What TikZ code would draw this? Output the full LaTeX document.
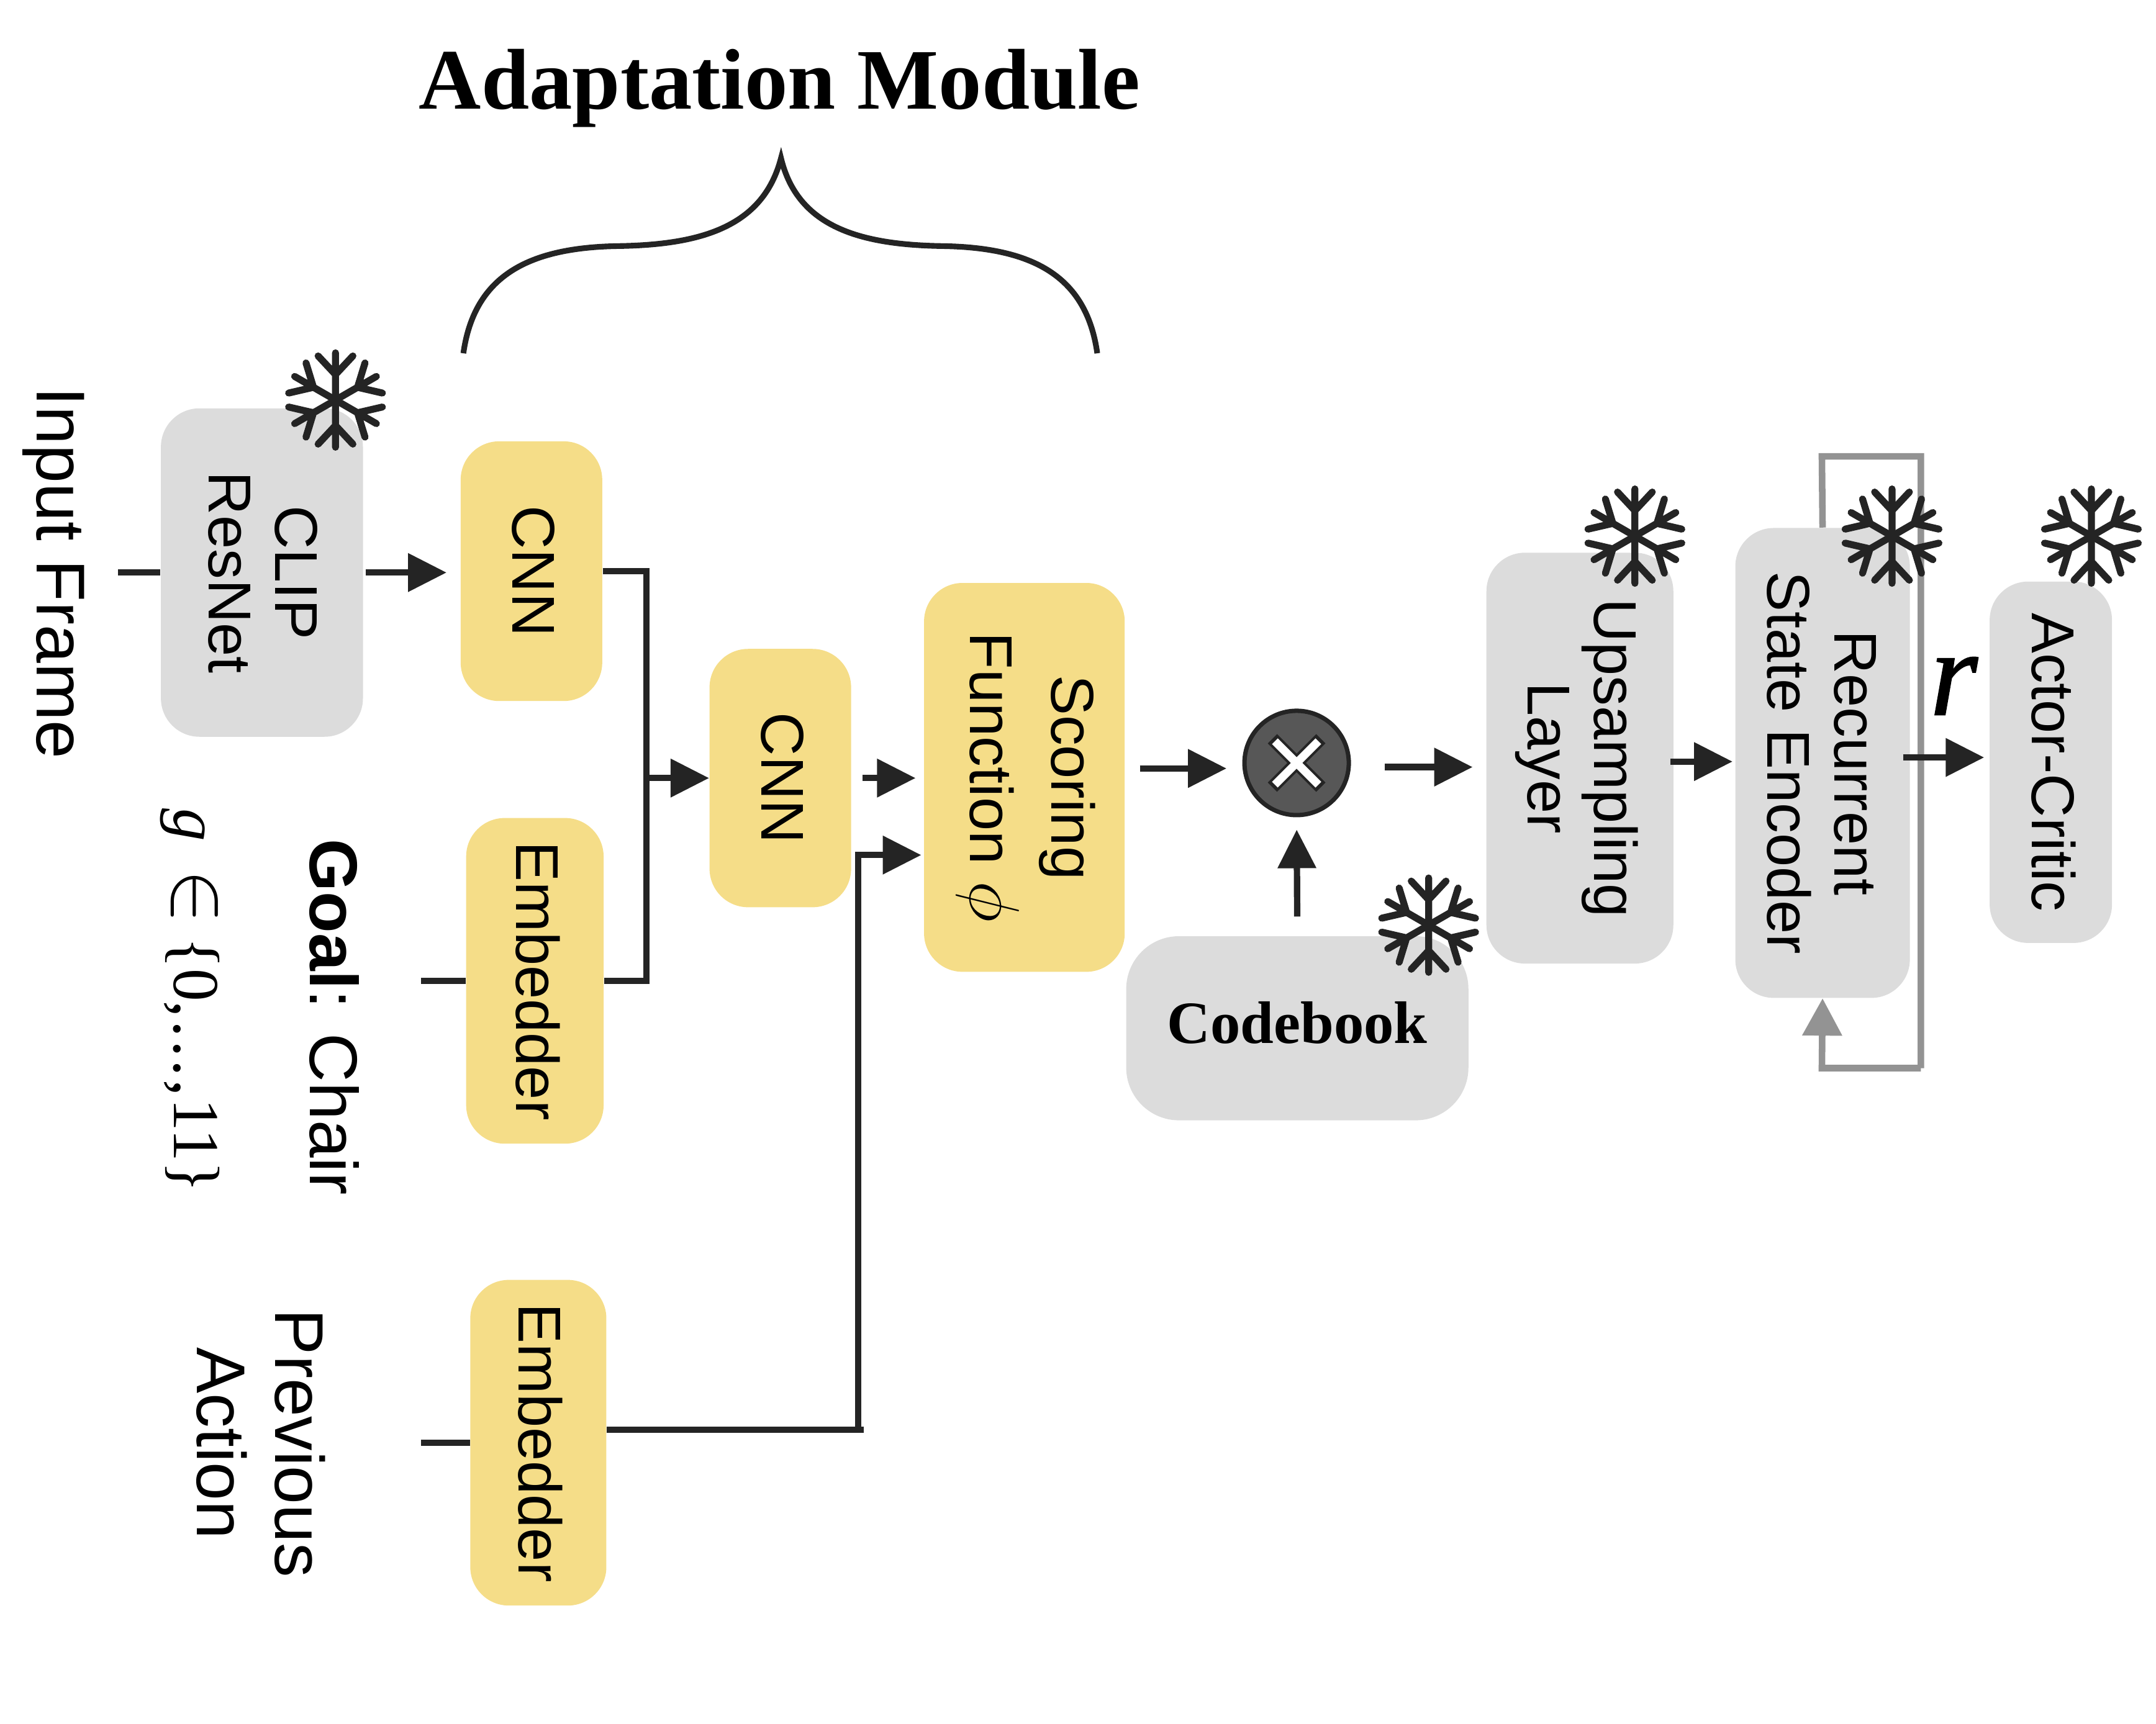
\documentclass[tikz,border=0pt]{standalone}
\usepackage{fontspec}
\setmainfont{Liberation Sans}
\newfontfamily\timesf{Liberation Serif}
\newfontfamily\heavyital[ItalicFeatures={FakeBold=1}]{Liberation Serif}
\usetikzlibrary{arrows.meta}
\definecolor{boxyellow}{HTML}{F5DD88}
\definecolor{boxgray}{HTML}{DCDCDC}
\definecolor{inkdark}{HTML}{242424}
\definecolor{loopgray}{HTML}{939393}
\definecolor{opfill}{HTML}{575757}
\newcommand\rt[2][5pt]{\rotatebox{-90}{\begin{tabular}{@{}c@{}}#2\end{tabular}}\kern#1\relax}
\tikzset{
  basebox/.style={draw=none,rounded corners=0.62cm,inner sep=0pt,font=\fontsize{27.7}{30.5}\selectfont,text=black},
  ybox/.style={basebox,fill=boxyellow},
  gbox/.style={basebox,fill=boxgray},
  side/.style={inner sep=0pt,font=\fontsize{31.6}{36}\selectfont,text=black},
  conn/.style={draw=inkdark,line width=2.9pt},
  arr/.style={conn,-{Triangle[length=0.62cm,width=0.6cm]}},
  grayarr/.style={draw=loopgray,line width=3pt,-{Triangle[length=0.6cm,width=0.62cm]}},
  flakeline/.style={draw=inkdark,line width=3.2pt,line cap=round,line join=round},
  flake/.pic={
    \foreach \a in {0,60,...,300}{
      \draw[flakeline,rotate=\a] (0cm,0cm)--(0cm,0.76cm) (-0.28cm,0.71cm)--(0cm,0.41cm)--(0.28cm,0.71cm);
    }
  }
}
\begin{document}
\begin{tikzpicture}[x=0.0221429cm,y=-0.0221429cm]
\useasboundingbox (0,0) rectangle (1568,1254.1);

% title and brace
\node[inner sep=0pt,text=black,font=\timesf\bfseries\fontsize{39.5}{44}\selectfont] (title) at (567,64) {Adaptation Module};
\draw[draw=inkdark,line width=2.6pt] (337,257) .. controls (345,200) and (385,180) .. (450,179)
  .. controls (510,178) and (555,165) .. (568,115)
  .. controls (580,165) and (625,178) .. (685,179)
  .. controls (750,180) and (790,200) .. (798,257);

% boxes
\node[gbox,minimum width=147*2.21429*0.01cm,minimum height=239*2.21429*0.01cm] (clip) at (190.5,416.5) {\rt[6pt]{CLIP\\ResNet}};
\node[ybox,minimum width=103*2.21429*0.01cm,minimum height=189*2.21429*0.01cm] (cnnA) at (386.5,415.5) {\rt{CNN}};
\node[ybox,minimum width=100*2.21429*0.01cm,minimum height=237*2.21429*0.01cm] (embA) at (389,713.5) {\rt{Embedder}};
\node[ybox,minimum width=103*2.21429*0.01cm,minimum height=188*2.21429*0.01cm] (cnnB) at (567.5,566) {\rt{CNN}};
\node[ybox,minimum width=146*2.21429*0.01cm,minimum height=283*2.21429*0.01cm] (score) at (745,565.5) {\rt[0pt]{Scoring\\[5.5pt]Function \scalebox{1.3}{$\phi$}}};
\node[ybox,minimum width=99*2.21429*0.01cm,minimum height=237*2.21429*0.01cm] (embB) at (391.5,1049.5) {\rt[5.5pt]{Embedder}};
\node[gbox,rounded corners=0.85cm,minimum width=249*2.21429*0.01cm,minimum height=134*2.21429*0.01cm,font=\timesf\bfseries\fontsize{27.5}{30}\selectfont] (codebook) at (943.5,748) {\raisebox{-6.85pt}[0pt][0pt]{Codebook}};
\node[gbox,minimum width=136*2.21429*0.01cm,minimum height=299*2.21429*0.01cm] (upsample) at (1149,551.5) {\rt{Upsampling\\Layer}};
\node[gbox,minimum width=127*2.21429*0.01cm,minimum height=342*2.21429*0.01cm] (rec) at (1325.5,555) {\rt[7.5pt]{Recurrent\\State Encoder}};
\node[gbox,minimum width=89*2.21429*0.01cm,minimum height=263*2.21429*0.01cm] (actor) at (1491.5,554.5) {\rt{Actor-Critic}};

% multiply node
\node[circle,draw=inkdark,fill=opfill,line width=2pt,minimum size=1.68cm,inner sep=0pt] (mult) at (943,555) {};
\draw[draw=inkdark,line width=6pt] ([xshift=-0.39cm,yshift=-0.39cm]mult.center) -- ([xshift=0.39cm,yshift=0.39cm]mult.center);
\draw[draw=inkdark,line width=6pt] ([xshift=-0.39cm,yshift=0.39cm]mult.center) -- ([xshift=0.39cm,yshift=-0.39cm]mult.center);
\draw[draw=white,line width=3.7pt] ([xshift=-0.35cm,yshift=-0.35cm]mult.center) -- ([xshift=0.35cm,yshift=0.35cm]mult.center);
\draw[draw=white,line width=3.7pt] ([xshift=-0.35cm,yshift=0.35cm]mult.center) -- ([xshift=0.35cm,yshift=-0.35cm]mult.center);

% side labels
\node[side] (inframe) at (39,417) {\rotatebox{-90}{Input Frame}};
\node[side,font=\fontsize{31}{36}\selectfont] (goal) at (243,740) {\rotatebox{-90}{\textbf{Goal}: Chair}};
\node[side,font=\timesf\fontsize{30}{36}\selectfont] (gset) at (138,728) {\rotatebox{-90}{\textit{g}\hspace{13pt}\scalebox{1.5}{$\in$}\hspace{6pt}\{0,\kern1.5pt.\kern1.5pt.\kern1.5pt.\kern1.5pt,\kern1pt11\}}};
\node[side] (prev) at (186,1050) {\rt[3.5pt]{Previous\\Action}};
\node[inner sep=0pt,text=black,font=\heavyital\itshape\fontsize{56}{60}\selectfont] (rlabel) at (1421,499) {r};

% free ends and junctions
\coordinate (inEnd) at (86,416.5);
\coordinate (goalEnd) at (306,713.5);
\coordinate (prevEnd) at (306,1049.5);
\coordinate (jA) at (470,415.5);
\coordinate (jB) at (624,1040);
\coordinate (jBend) at (628,1040);
\coordinate (scoreIn) at (670,622);
\coordinate (scoreOut) at (829,559);
\coordinate (multIn) at (892,559);
\coordinate (multOut) at (1007,558);
\coordinate (upIn) at (1071,558);
\coordinate (upOut) at (1215,554);
\coordinate (recIn) at (1260,554);
\coordinate (recOut) at (1384,551);
\coordinate (actorIn) at (1443,551);
\coordinate (loopTL) at (1325,332);
\coordinate (loopTR) at (1397,332);
\coordinate (loopBR) at (1397,777);
\coordinate (loopBL) at (1325,777);

% connectors
\draw[conn] (inEnd) -- (clip.west);
\draw[arr,shorten <=0.04cm,shorten >=0.22cm] (clip.east) -- (clip.east -| cnnA.west);
\draw[conn] (cnnA.east) -- (jA) -- (jA |- embA.east) -- (embA.east);
\draw[arr] (jA |- cnnB.west) -- (cnnB.west);
\draw[conn] (goalEnd) -- (embA.west);
\draw[conn] (prevEnd) -- (embB.west);
\draw[arr,shorten <=0.18cm,shorten >=0.13cm] (cnnB.east) -- (cnnB.east -| score.west);
\draw[conn] (embB.east |- jB) -- (jBend);
\draw[arr] (jB) -- (jB |- scoreIn) -- (scoreIn);
\draw[arr] (scoreOut) -- (multIn);
\draw[arr] (multOut) -- (upIn);
\draw[arr,shorten <=0.31cm,shorten >=0.2cm] (codebook.north) -- (mult.south);
\draw[arr] (upOut) -- (recIn);
\draw[draw=loopgray,line width=3pt] (rec.north) -- (loopTL) -- (loopTR) -- (loopBR);
\draw[grayarr] (loopBR) -- (loopBL) -- (rec.south);
\draw[arr] (recOut) -- (actorIn);

% freeze marks
\pic at (244,291) {flake};
\pic at (1039,673) {flake};
\pic at (1189,390) {flake};
\pic at (1376,390) {flake};
\pic at (1521,390) {flake};
\end{tikzpicture}
\end{document}
